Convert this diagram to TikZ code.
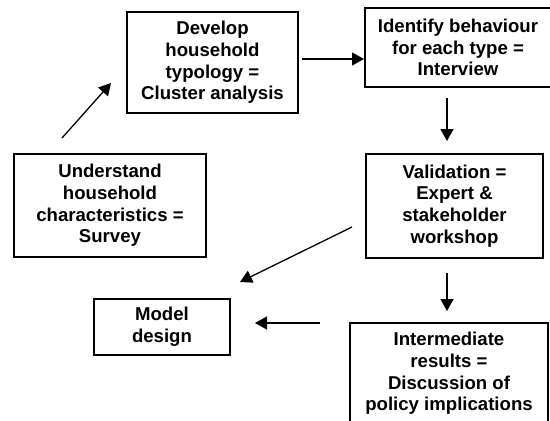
\documentclass[tikz,border=0pt]{standalone}
\usepackage{fontspec}
\setmainfont{Liberation Sans}
\usetikzlibrary{arrows.meta}
\begin{document}
\begin{tikzpicture}[x=1pt,y=-1pt,
  stepbox/.style={draw,line width=2.4pt,rectangle,inner sep=0pt,align=center,
    font=\bfseries\fontsize{18.6}{21.7}\selectfont},
  conn/.style={line width=1.3pt,-{Triangle[length=12pt,width=13pt]}}]
\useasboundingbox (0,0) rectangle (550,421);
\clip (0,0) rectangle (550,421);
\fill[white] (0,0) rectangle (550,421);

\node[stepbox,minimum width=171pt,minimum height=101pt] (dev) at (212.5,62.5)
  {Develop\\household\\typology =\\Cluster analysis};
\node[stepbox,minimum width=192pt,minimum height=103pt] (und) at (110,205.5)
  {Understand\\household\\characteristics =\\Survey};
\node[stepbox,minimum width=186pt,minimum height=79pt] (idf) at (458,47.5)
  {Identify behaviour\\for each type =\\Interview};
\node[stepbox,minimum width=177pt,minimum height=104pt] (val) at (454.5,206)
  {Validation =\\Expert \&\\stakeholder\\workshop};
\node[stepbox,minimum width=136pt,minimum height=56pt] (mod) at (162,327)
  {Model\\design};
\node[stepbox,minimum width=198pt,minimum height=101pt] (int) at (449,373.5)
  {Intermediate\\results =\\Discussion of\\policy implications};

\coordinate (a1s) at (62,138);   \coordinate (a1e) at (111,83);
\coordinate (a2s) at (302,59);   \coordinate (a2e) at (364,59);
\coordinate (a3s) at (447,98);   \coordinate (a3e) at (447,141);
\coordinate (a4s) at (352,227);  \coordinate (a4e) at (240,282);
\coordinate (a5s) at (320,323);  \coordinate (a5e) at (255,323);
\coordinate (a6s) at (447,273);  \coordinate (a6e) at (447,311);

\draw[conn] (a1s) -- (a1e);
\draw[conn] (a2s) -- (a2e);
\draw[conn] (a3s) -- (a3e);
\draw[conn] (a4s) -- (a4e);
\draw[conn] (a5s) -- (a5e);
\draw[conn] (a6s) -- (a6e);
\end{tikzpicture}
\end{document}
